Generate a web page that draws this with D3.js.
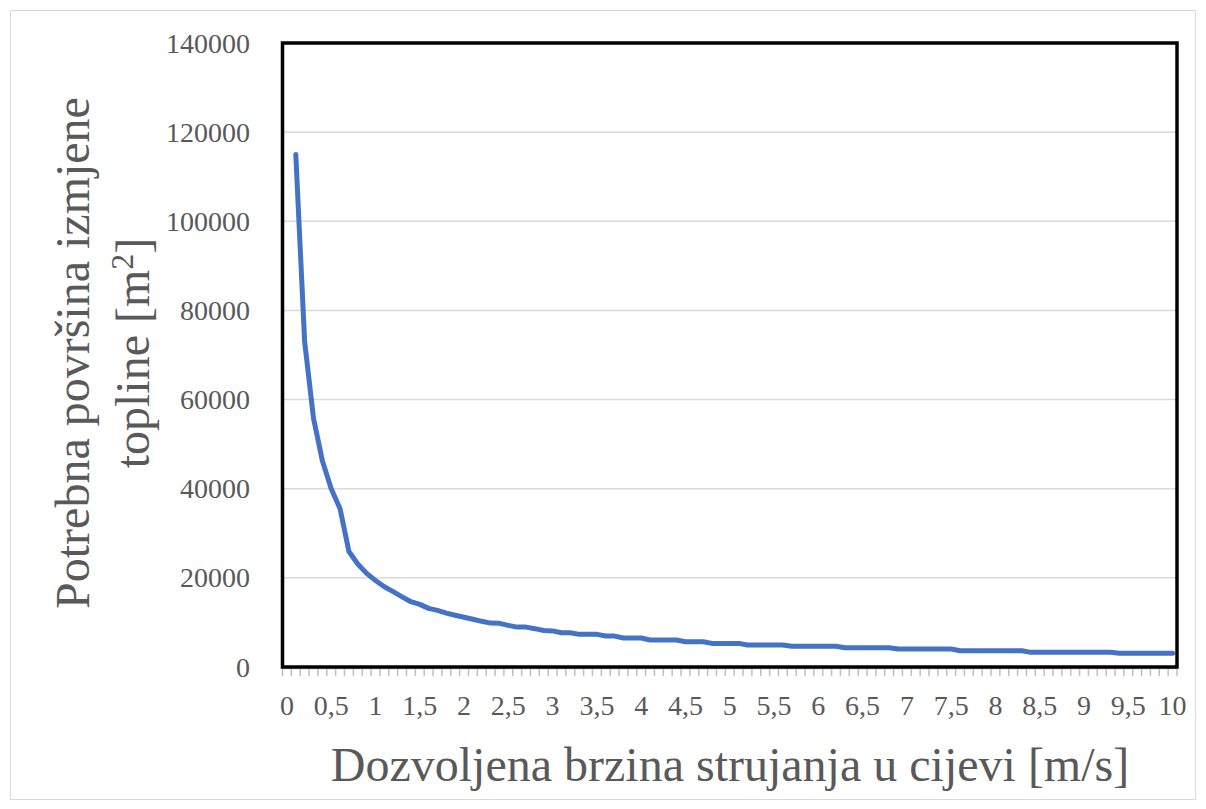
<!DOCTYPE html>
<html>
<head>
<meta charset="utf-8">
<script src="https://cdn.jsdelivr.net/npm/d3@7"></script>
<style>
  html, body { margin: 0; padding: 0; background: #ffffff; }
  svg { display: block; }
  text { font-family: "Liberation Serif", "Times New Roman", serif; fill: #595959; }
</style>
</head>
<body>
<svg id="chart" width="1206" height="809"></svg>
<script>
// Flow velocity in the tube [m/s]
const velocities = [
  0, 0.1, 0.2, 0.3, 0.4, 0.5, 0.6, 0.7, 0.8, 0.9,
  1, 1.1, 1.2, 1.3, 1.4, 1.5, 1.6, 1.7, 1.8, 1.9,
  2, 2.1, 2.2, 2.3, 2.4, 2.5, 2.6, 2.7, 2.8, 2.9,
  3, 3.1, 3.2, 3.3, 3.4, 3.5, 3.6, 3.7, 3.8, 3.9,
  4, 4.1, 4.2, 4.3, 4.4, 4.5, 4.6, 4.7, 4.8, 4.9,
  5, 5.1, 5.2, 5.3, 5.4, 5.5, 5.6, 5.7, 5.8, 5.9,
  6, 6.1, 6.2, 6.3, 6.4, 6.5, 6.6, 6.7, 6.8, 6.9,
  7, 7.1, 7.2, 7.3, 7.4, 7.5, 7.6, 7.7, 7.8, 7.9,
  8, 8.1, 8.2, 8.3, 8.4, 8.5, 8.6, 8.7, 8.8, 8.9,
  9, 9.1, 9.2, 9.3, 9.4, 9.5, 9.6, 9.7, 9.8, 9.9,
  10
];

// Required heat-exchange area [m²] (no value at 0 m/s)
const areas = [
  null, 115000, 73000, 55800, 46300, 40000, 35500, 25900, 23100, 21000,
  19400, 18000, 16900, 15750, 14650, 14050, 13150, 12700, 12100, 11600,
  11150, 10700, 10250, 9850, 9800, 9350, 8950, 8950, 8600, 8200,
  8100, 7690, 7690, 7320, 7320, 7320, 6940, 6940, 6500, 6500,
  6500, 6050, 6050, 6050, 6050, 5680, 5680, 5680, 5300, 5300,
  5300, 5300, 4950, 4950, 4950, 4950, 4950, 4640, 4640, 4640,
  4640, 4640, 4640, 4320, 4320, 4320, 4320, 4320, 4320, 4030,
  4030, 4030, 4030, 4030, 4030, 4030, 3650, 3650, 3650, 3650,
  3650, 3650, 3650, 3650, 3290, 3290, 3290, 3290, 3290, 3290,
  3290, 3290, 3290, 3290, 3080, 3080, 3080, 3080, 3080, 3080,
  3080
];

const xTickLabels = ["0", "0,5", "1", "1,5", "2", "2,5", "3", "3,5", "4", "4,5", "5",
                     "5,5", "6", "6,5", "7", "7,5", "8", "8,5", "9", "9,5", "10"];
const yTicks = [0, 20000, 40000, 60000, 80000, 100000, 120000, 140000];

const xTitle = "Dozvoljena brzina strujanja u cijevi [m/s]";
const yTitleLine1 = "Potrebna površina izmjene";
const yTitleLine2 = "topline [m";

const svg = d3.select("#chart");
const plot = { left: 282.5, right: 1177, top: 43, bottom: 667 };

const x = d3.scaleBand()
  .domain(velocities.map(String))
  .range([plot.left, plot.right])
  .paddingInner(0)
  .paddingOuter(0);

const y = d3.scaleLinear()
  .domain([0, 140000])
  .range([plot.bottom, plot.top]);

// Outer chart border
svg.append("rect")
  .attr("x", 10.5).attr("y", 10.5)
  .attr("width", 1185).attr("height", 789)
  .attr("fill", "none").attr("stroke", "#d9d9d9").attr("stroke-width", 1);

// Horizontal gridlines
svg.append("g")
  .selectAll("line")
  .data(yTicks)
  .join("line")
  .attr("x1", plot.left).attr("x2", plot.right)
  .attr("y1", d => y(d)).attr("y2", d => y(d))
  .attr("stroke", "#d9d9d9").attr("stroke-width", 1.5);

// Y tick labels
svg.append("g")
  .selectAll("text")
  .data(yTicks)
  .join("text")
  .attr("x", 250)
  .attr("y", d => y(d))
  .attr("dy", "0.34em")
  .attr("text-anchor", "end")
  .attr("font-size", 28)
  .text(d => String(d));

// X axis tick marks at category boundaries
const boundaries = velocities.map(v => x(String(v))).concat([plot.right]);
svg.append("g")
  .selectAll("line")
  .data(boundaries)
  .join("line")
  .attr("x1", d => d).attr("x2", d => d)
  .attr("y1", plot.bottom).attr("y2", plot.bottom + 9)
  .attr("stroke", "#bfbfbf").attr("stroke-width", 1.5);

svg.append("line")
  .attr("x1", plot.left).attr("x2", plot.right)
  .attr("y1", plot.bottom + 1.5).attr("y2", plot.bottom + 1.5)
  .attr("stroke", "#bfbfbf").attr("stroke-width", 1.5);

// X tick labels (every fifth category)
const labelled = velocities.filter((v, i) => i % 5 === 0);
svg.append("g")
  .selectAll("text")
  .data(labelled)
  .join("text")
  .attr("x", d => x(String(d)) + x.bandwidth() / 2)
  .attr("y", 715)
  .attr("text-anchor", "middle")
  .attr("font-size", 28)
  .text((d, i) => xTickLabels[i]);

// Data line
const line = d3.line()
  .defined(d => d.a !== null)
  .x(d => x(String(d.v)) + x.bandwidth() / 2)
  .y(d => y(d.a));

svg.append("path")
  .datum(velocities.map((v, i) => ({ v: v, a: areas[i] })))
  .attr("d", line)
  .attr("fill", "none")
  .attr("stroke", "#4472c4")
  .attr("stroke-width", 5)
  .attr("stroke-linejoin", "round")
  .attr("stroke-linecap", "round");

// Plot area frame
svg.append("rect")
  .attr("x", plot.left).attr("y", plot.top)
  .attr("width", plot.right - plot.left)
  .attr("height", plot.bottom - plot.top)
  .attr("fill", "none")
  .attr("stroke", "#000000")
  .attr("stroke-width", 3.5);

// Axis titles
svg.append("text")
  .attr("x", 730)
  .attr("y", 781)
  .attr("text-anchor", "middle")
  .attr("font-size", 48)
  .text(xTitle);

const yTitle = svg.append("text")
  .attr("transform", "translate(0,353) rotate(-90)")
  .attr("text-anchor", "middle")
  .attr("font-size", 48);

yTitle.append("tspan")
  .attr("x", 0).attr("y", 89)
  .text(yTitleLine1);

const line2 = yTitle.append("tspan")
  .attr("x", 0).attr("y", 149);
line2.append("tspan").text(yTitleLine2);
line2.append("tspan").attr("font-size", 32).attr("dy", -16).text("2");
line2.append("tspan").attr("dy", 16).text("]");
</script>
</body>
</html>
